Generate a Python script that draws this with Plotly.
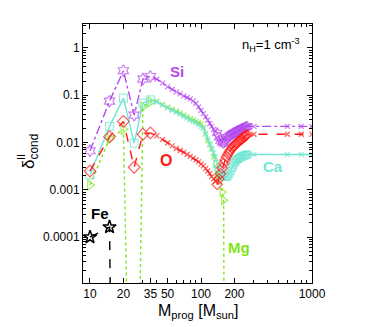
import plotly.graph_objects as go

# ---------------- data ----------------
mass_cc = [10, 15, 20, 25, 30, 35]
mass_mid = [40, 45, 50, 55, 60, 65, 70, 75, 80, 85, 90, 95, 100, 105, 110, 115, 120, 125, 130, 135]
mass_pisn = [140, 145, 150, 155, 160, 165, 170, 175, 180, 185, 190, 195, 200, 205, 210, 215, 220,
             225, 230, 235, 240, 245, 250, 255, 260]
mass_flat = [300, 600, 800, 1000]

si_cc = [0.0067, 0.075, 0.33, 0.038, 0.22, 0.25]
si_mid = [0.22, 0.18, 0.15, 0.133, 0.118, 0.107, 0.097, 0.09, 0.084, 0.076, 0.067, 0.057, 0.048,
          0.041, 0.035, 0.03, 0.025, 0.022, 0.019, 0.017]
si_pisn = [0.016, 0.013, 0.011, 0.0102, 0.0097, 0.0105, 0.0118, 0.013, 0.0138, 0.0145, 0.015,
           0.0156, 0.016, 0.0166, 0.0172, 0.0177, 0.018, 0.0185, 0.019, 0.0195, 0.02, 0.0205,
           0.021, 0.0215, 0.022]
si_flat = [0.022, 0.022, 0.022, 0.022]

ca_cc = [0.0021, 0.022, 0.087, 0.0097, 0.068, 0.08]
ca_mid = [0.072, 0.062, 0.054, 0.048, 0.044, 0.04, 0.036, 0.033, 0.03, 0.028, 0.026, 0.024, 0.022,
          0.02, 0.016, 0.012, 0.0095, 0.0075, 0.006, 0.005]
ca_pisn = [0.0035, 0.0026, 0.0022, 0.002, 0.0019, 0.0019, 0.0019, 0.002, 0.0022, 0.0025, 0.0029,
           0.0033, 0.0037, 0.004, 0.0043, 0.0045, 0.0047, 0.0049, 0.005, 0.0051, 0.0052, 0.0053,
           0.0054, 0.0055, 0.0056]
ca_flat = [0.0056, 0.0056, 0.0056, 0.0056]

mg_cc = [0.00127, 0.012, 0.019, 1e-13, 0.057, 0.073]
mg_mid = [0.075, 0.064, 0.056, 0.05, 0.046, 0.042, 0.038, 0.035, 0.032, 0.03, 0.028, 0.026, 0.025,
          0.021, 0.015, 0.011, 0.009, 0.0072, 0.005, 0.0032]
mg_pisn = [0.0021, 0.0019, 0.0018, 0.0009, 0.0006, 1e-13, 1e-13, 1e-13, 1e-13, 1e-13, 1e-13,
           1e-13, 1e-13, 1e-13, 1e-13, 1e-13, 1e-13, 1e-13, 1e-13, 1e-13, 1e-13, 1e-13, 1e-13,
           1e-13, 1e-13]
mg_flat = [1e-13, 1e-13, 1e-13, 1e-13]

o_cc = [0.0025, 0.0133, 0.028, 0.003, 0.015, 0.016]
o_mid = [0.0138, 0.0115, 0.0098, 0.0085, 0.0075, 0.0068, 0.0062, 0.0056, 0.0051, 0.0047, 0.0043,
         0.0039, 0.0035, 0.0032, 0.0028, 0.0025, 0.0022, 0.0019, 0.0017, 0.0015]
o_pisn = [0.0013, 0.0017, 0.0022, 0.0029, 0.0036, 0.0043, 0.005, 0.0057, 0.0064, 0.007, 0.0076,
          0.0082, 0.0087, 0.0092, 0.0097, 0.0102, 0.0107, 0.0112, 0.0117, 0.0122, 0.0127, 0.0132,
          0.0137, 0.0142, 0.0148]
o_flat = [0.015, 0.015, 0.015, 0.015]

fe_mass = [10, 15, 20]
fe_vals = [0.0001, 0.000163, 1e-30]

x_ticks = [10, 20, 35, 50, 100, 200, 1000]
x_ticktext = ["10", "20", "35", "50", "100", "200", "1000"]
x_minor = [30, 40, 60, 70, 80, 90, 300, 400, 500, 600, 700, 800, 900]
y_ticks = [1e-4, 1e-3, 1e-2, 1e-1, 1]
y_ticktext = ["0.0001", "0.001", "0.01", "0.1", "1"]
y_minor = [m * 10.0 ** e for e in range(-5, 1) for m in range(2, 10)]

# ---------------- figure ----------------
W, H = 382, 327
ML, MR, MT, MB = 83, 70, 24, 44
PW, PH = W - ML - MR, H - MT - MB


def px(xp):
    return (xp - ML) / PW


def py(yp):
    return (H - MB - yp) / PH


fig = go.Figure()

masses = mass_cc + mass_mid + mass_pisn + mass_flat


def add_elem(vals, color, dash, big_symbol, big_size):
    symbols = ([big_symbol] * len(mass_cc) + ["x-thin-open"] * len(mass_mid)
               + [big_symbol] * len(mass_pisn) + ["x-thin-open"] * len(mass_flat))
    sizes = ([big_size] * len(mass_cc) + [5] * len(mass_mid)
             + [big_size - 1] * len(mass_pisn) + [5] * len(mass_flat))
    fig.add_trace(go.Scatter(
        x=masses, y=vals, mode="lines+markers",
        line=dict(color=color, width=1.4, dash=dash),
        marker=dict(symbol=symbols, size=sizes, color=color,
                    line=dict(color=color, width=1.2)),
        showlegend=False))


SI_C = "#B548EE"
CA_C = "#72E6D4"
MG_C = "#7FE619"
O_C = "#FF1A1A"

add_elem(si_cc + si_mid + si_pisn + si_flat, SI_C, "dashdot", "hexagram-open", 9)
add_elem(mg_cc + mg_mid + mg_pisn + mg_flat, MG_C, "dot", "triangle-right-open", 9)
add_elem(ca_cc + ca_mid + ca_pisn + ca_flat, CA_C, "solid", "square-open", 8)
add_elem(o_cc + o_mid + o_pisn + o_flat, O_C, "dash", "diamond-open", 9)

fig.add_trace(go.Scatter(
    x=fe_mass, y=fe_vals, mode="lines+markers",
    line=dict(color="black", width=1.4, dash="dash"),
    marker=dict(symbol="star-open", size=10, color="black", line=dict(color="black", width=1.5)),
    showlegend=False))

FONT = "Liberation Sans, Arial, Helvetica, sans-serif"

axis_common = dict(
    showline=True, linecolor="black", linewidth=1, mirror="allticks",
    ticks="inside", ticklen=5, tickcolor="black", showgrid=False, zeroline=False,
    tickfont=dict(family=FONT, size=12, color="black"),
)

fig.update_xaxes(type="log", range=[0.937, 3.0], tickvals=x_ticks, ticktext=x_ticktext,
                 minor=dict(tickmode="array", tickvals=x_minor, ticks="inside", ticklen=3,
                            tickcolor="black", showgrid=False),
                 **axis_common)
fig.update_yaxes(type="log", range=[-4.97, 0.507], tickvals=y_ticks, ticktext=y_ticktext,
                 minor=dict(tickmode="array", tickvals=y_minor, ticks="inside", ticklen=3,
                            tickcolor="black", showgrid=False),
                 **axis_common)

ann = [
    dict(text="<b>Si</b>", x=px(177), y=py(71), font=dict(size=15, color=SI_C)),
    dict(text="<b>O</b>", x=px(166), y=py(160), font=dict(size=16, color=O_C)),
    dict(text="<b>Ca</b>", x=px(273), y=py(166), font=dict(size=15, color=CA_C)),
    dict(text="<b>Mg</b>", x=px(239), y=py(247), font=dict(size=15, color=MG_C)),
    dict(text="<b>Fe</b>", x=px(100), y=py(213), font=dict(size=15, color="black")),
    dict(text="n<sub>H</sub>=1 cm<sup>-3</sup>", x=px(271), y=py(45),
         font=dict(size=13, color="black")),
    dict(text="M<sub>prog</sub> [M<sub>sun</sub>]", x=px(198), y=py(311),
         font=dict(size=16, color="black")),
    dict(text="δ<sub>cond</sub>", x=px(30), y=py(152), textangle=-90,
         font=dict(size=17, color="black")),
    dict(text="II", x=px(21), y=py(157), textangle=-90,
         font=dict(size=11, color="black")),
]
for a in ann:
    a.update(xref="paper", yref="paper", showarrow=False, xanchor="center", yanchor="middle")
    a["font"]["family"] = FONT

fig.update_layout(
    width=W, height=H, margin=dict(l=ML, r=MR, t=MT, b=MB),
    paper_bgcolor="white", plot_bgcolor="white",
    font=dict(family=FONT, color="black"),
    annotations=ann,
)

fig.write_html("out.html", config={"displayModeBar": False},
               post_script="document.body.style.margin='0px';")
